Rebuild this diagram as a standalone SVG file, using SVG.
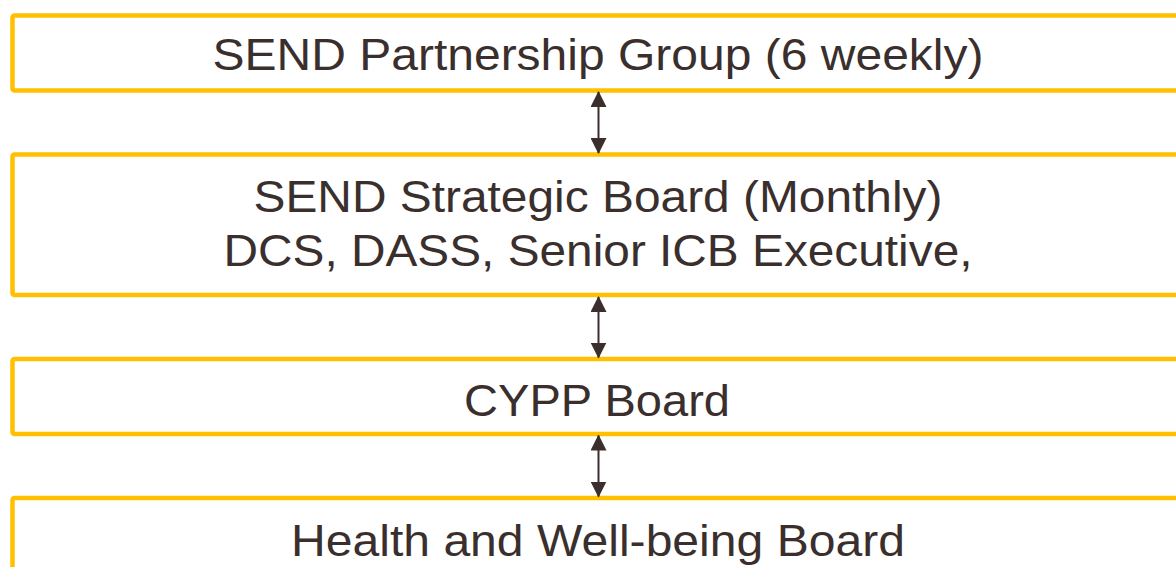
<svg xmlns="http://www.w3.org/2000/svg" width="1176" height="567" viewBox="0 0 1176 567">
  <style>
    .box { fill: #ffffff; stroke: #FFC000; stroke-width: 4.5; }
    .lbl { font-family: "Liberation Sans", Arial, sans-serif; font-size: 44px; fill: #3a2f2d; text-anchor: middle; }
    .conn { stroke: #3a2f2d; stroke-width: 2; fill: none; }
  </style>
  <defs>
    <marker id="ah" viewBox="0 0 16 16" refX="15" refY="8" markerWidth="16" markerHeight="16" markerUnits="userSpaceOnUse" orient="auto-start-reverse">
      <path d="M0,0 L16,8 L0,16 Z" fill="#3a2f2d"/>
    </marker>
  </defs>
  <rect width="1176" height="567" fill="#ffffff"/>
  <g id="node-partnership">
    <rect class="box" x="12.5" y="15.5" width="1200" height="75" rx="2"/>
    <text class="lbl" x="598" y="69.5" textLength="771" lengthAdjust="spacingAndGlyphs">SEND Partnership Group (6 weekly)</text>
  </g>
  <g id="node-strategic">
    <rect class="box" x="12.5" y="154.5" width="1200" height="140.5" rx="2"/>
    <text class="lbl" x="598" y="212" textLength="689" lengthAdjust="spacingAndGlyphs">SEND Strategic Board (Monthly)</text>
    <text class="lbl" x="598" y="265.5" textLength="749" lengthAdjust="spacingAndGlyphs">DCS, DASS, Senior ICB Executive,</text>
  </g>
  <g id="node-cypp">
    <rect class="box" x="12.5" y="359" width="1200" height="75" rx="2"/>
    <text class="lbl" x="597" y="415.5" textLength="266" lengthAdjust="spacingAndGlyphs">CYPP Board</text>
  </g>
  <g id="node-hwb">
    <rect class="box" x="12.5" y="498" width="1200" height="120" rx="2"/>
    <text class="lbl" x="598" y="556" textLength="614" lengthAdjust="spacingAndGlyphs">Health and Well-being Board</text>
  </g>
  <g id="connectors">
    <line class="conn" x1="598.5" y1="92" x2="598.5" y2="153" marker-start="url(#ah)" marker-end="url(#ah)"/>
    <line class="conn" x1="598.5" y1="297" x2="598.5" y2="357.5" marker-start="url(#ah)" marker-end="url(#ah)"/>
    <line class="conn" x1="598.5" y1="435.5" x2="598.5" y2="496.5" marker-start="url(#ah)" marker-end="url(#ah)"/>
  </g>
</svg>
